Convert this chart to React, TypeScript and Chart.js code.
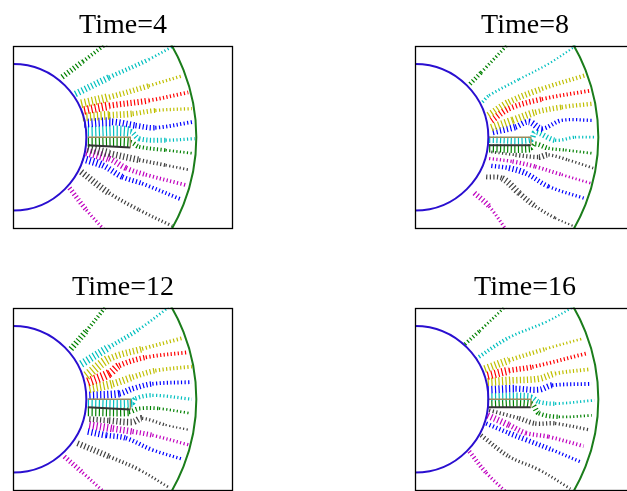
import React, { useEffect, useRef } from 'react';
import { Chart, registerables } from 'chart.js';

Chart.register(...registerables);

type Pt = [number, number];

// Snapshot times shown in the four panels
const times = [4, 8, 12, 16];

// Domain: inner cylinder, outer boundary, plotted window
const innerRadius = 1.0;
const outerRadius = 2.5;
const xLimits = [0, 3];
const yLimits = [-1.25, 1.25];

// Colour code of every streamline, listed from the top one downwards
const streamColorCodes = ['g', 'c', 'y', 'r', 'y', 'b', 'c', 'g', 'k', 'm', 'b', 'k', 'm'];
const colorMap: Record<string, string> = {
  g: '#008000',
  c: '#00bfbf',
  y: '#bfbf00',
  r: '#ff0000',
  b: '#0000ff',
  m: '#bf00bf',
  k: '#404040',
};

// Streamline knots [x, y] and local speed at each knot — Time = 4
const pathsT4: Pt[][] = [
  [[0.67, 0.82], [0.95, 1.03], [1.28, 1.28]],
  [[0.85, 0.59], [1.31, 0.815], [1.85, 1.06], [2.2, 1.25]],
  [[0.93, 0.455], [1.31, 0.545], [1.85, 0.7], [2.32, 0.84]],
  [[0.97, 0.365], [1.31, 0.43], [1.85, 0.5], [2.39, 0.61]],
  [[0.95, 0.275], [1.31, 0.3], [1.63, 0.32], [1.94, 0.365], [2.44, 0.39]],
  [[0.97, 0.19], [1.35, 0.21], [1.67, 0.16], [1.94, 0.13], [2.46, 0.21]],
  [[1.02, 0.077], [1.6, 0.077], [1.72, -0.02], [2.08, -0.04], [2.48, -0.02]],
  [[1.02, -0.068], [1.6, -0.068], [1.72, -0.13], [2.08, -0.175], [2.46, -0.22]],
  [[1.02, -0.15], [1.31, -0.22], [1.72, -0.31], [2.08, -0.38], [2.41, -0.445]],
  [[1.0, -0.2], [1.31, -0.29], [1.54, -0.42], [1.81, -0.51], [2.35, -0.65]],
  [[0.95, -0.29], [1.22, -0.38], [1.49, -0.54], [1.76, -0.63], [2.3, -0.85]],
  [[0.93, -0.47], [1.31, -0.76], [1.72, -0.99], [2.17, -1.21]],
  [[0.77, -0.69], [1.0, -0.99], [1.28, -1.3]],
];
const speedsT4: number[][] = [
  [0.5, 0.35, 0.2],
  [0.6, 0.4, 0.25, 0.2],
  [0.8, 0.5, 0.3, 0.2],
  [0.8, 0.55, 0.35, 0.2],
  [0.8, 0.6, 0.45, 0.3, 0.2],
  [0.8, 0.6, 0.5, 0.35, 0.2],
  [0.95, 0.5, 0.45, 0.3, 0.2],
  [0.9, 0.45, 0.35, 0.25, 0.2],
  [0.8, 0.6, 0.35, 0.25, 0.2],
  [0.8, 0.55, 0.45, 0.35, 0.25],
  [0.7, 0.55, 0.45, 0.35, 0.25],
  [0.6, 0.35, 0.3, 0.2],
  [0.45, 0.3, 0.2],
];
const bladeT4: Pt[] = [[1.02, 0.0], [1.6, 0.0], [1.6, -0.14], [1.02, -0.11]];

// Time = 8
const pathsT8: Pt[][] = [
  [[0.75, 0.725], [0.9, 0.88], [1.27, 1.27]],
  [[0.92, 0.48], [1.01, 0.57], [1.42, 0.79], [1.82, 1.0], [2.2, 1.25]],
  [[1.0, 0.3], [1.28, 0.48], [1.73, 0.66], [2.31, 0.84]],
  [[1.04, 0.23], [1.28, 0.39], [1.73, 0.52], [2.39, 0.635]],
  [[1.04, 0.13], [1.33, 0.23], [1.64, 0.34], [2.0, 0.41], [2.41, 0.455]],
  [[1.06, 0.07], [1.37, 0.14], [1.55, 0.21], [1.73, 0.117], [2.0, 0.23], [2.43, 0.23]],
  [[1.01, -0.034], [1.58, -0.034], [1.64, 0.07], [1.91, -0.04], [2.18, 0.0], [2.45, 0.0]],
  [[1.01, -0.15], [1.58, -0.15], [1.64, -0.09], [1.82, -0.15], [2.05, -0.175], [2.43, -0.22]],
  [[1.04, -0.2], [1.37, -0.24], [1.69, -0.27], [1.82, -0.24], [2.09, -0.31], [2.43, -0.42]],
  [[1.01, -0.29], [1.33, -0.33], [1.64, -0.4], [2.0, -0.51], [2.41, -0.63]],
  [[1.04, -0.39], [1.28, -0.42], [1.51, -0.49], [1.82, -0.67], [2.3, -0.83]],
  [[0.97, -0.54], [1.19, -0.56], [1.42, -0.76], [1.64, -0.94], [1.91, -1.1], [2.16, -1.21]],
  [[0.81, -0.76], [1.01, -0.94], [1.27, -1.3]],
];
const speedsT8: number[][] = [
  [0.4, 0.3, 0.2],
  [0.3, 0.25, 0.2, 0.2, 0.2],
  [0.6, 0.55, 0.4, 0.3],
  [0.6, 0.5, 0.35, 0.3],
  [0.7, 0.65, 0.5, 0.4, 0.3],
  [0.6, 0.5, 0.6, 0.4, 0.3, 0.2],
  [0.6, 0.5, 0.5, 0.3, 0.25, 0.2],
  [0.75, 0.4, 0.45, 0.3, 0.25, 0.2],
  [0.25, 0.4, 0.55, 0.3, 0.25, 0.2],
  [0.3, 0.4, 0.35, 0.25, 0.2],
  [0.4, 0.55, 0.45, 0.3, 0.2],
  [0.45, 0.6, 0.5, 0.3, 0.2, 0.2],
  [0.5, 0.3, 0.2],
];
const bladeT8: Pt[] = [[1.01, 0.0], [1.58, 0.0], [1.58, -0.11], [1.01, -0.11]];

// Time = 12
const pathsT12: Pt[][] = [
  [[0.79, 0.685], [1.0, 0.93], [1.28, 1.28]],
  [[0.93, 0.48], [1.31, 0.71], [1.72, 0.955], [2.12, 1.25]],
  [[1.0, 0.32], [1.31, 0.55], [1.76, 0.685], [2.3, 0.83]],
  [[1.02, 0.235], [1.31, 0.35], [1.45, 0.46], [1.81, 0.57], [2.39, 0.64]],
  [[1.04, 0.145], [1.36, 0.21], [1.63, 0.3], [1.94, 0.39], [2.44, 0.445]],
  [[1.04, 0.054], [1.45, 0.077], [1.63, 0.144], [1.9, 0.21], [2.44, 0.234]],
  [[1.02, -0.05], [1.63, -0.05], [1.67, 0.01], [1.9, 0.054], [2.44, 0.0]],
  [[1.02, -0.17], [1.58, -0.17], [1.72, -0.126], [1.99, -0.126], [2.41, -0.19]],
  [[1.04, -0.27], [1.31, -0.29], [1.63, -0.31], [1.76, -0.26], [2.08, -0.35], [2.41, -0.42]],
  [[1.04, -0.35], [1.36, -0.4], [1.63, -0.44], [1.9, -0.49], [2.39, -0.62]],
  [[1.02, -0.44], [1.27, -0.49], [1.54, -0.53], [1.9, -0.69], [2.32, -0.82]],
  [[0.88, -0.6], [1.31, -0.78], [1.72, -0.96], [2.14, -1.21]],
  [[0.7, -0.78], [0.95, -1.0], [1.28, -1.3]],
];
const speedsT12: number[][] = [
  [0.55, 0.35, 0.2],
  [0.7, 0.4, 0.25, 0.2],
  [0.85, 0.6, 0.35, 0.2],
  [0.85, 0.7, 0.5, 0.35, 0.2],
  [0.8, 0.65, 0.5, 0.35, 0.2],
  [0.7, 0.55, 0.5, 0.35, 0.2],
  [0.8, 0.45, 0.4, 0.3, 0.2],
  [0.8, 0.45, 0.35, 0.25, 0.2],
  [0.5, 0.6, 0.6, 0.3, 0.2, 0.2],
  [0.7, 0.6, 0.45, 0.3, 0.2],
  [0.6, 0.5, 0.4, 0.3, 0.2],
  [0.55, 0.35, 0.25, 0.2],
  [0.45, 0.3, 0.2],
];
const bladeT12: Pt[] = [[1.02, 0.0], [1.6, 0.0], [1.6, -0.14], [1.02, -0.11]];

// Time = 16
const pathsT16: Pt[][] = [
  [[0.68, 0.75], [0.88, 0.93], [1.25, 1.28]],
  [[0.83, 0.55], [1.28, 0.84], [1.78, 1.05], [2.17, 1.26]],
  [[0.95, 0.41], [1.28, 0.53], [1.78, 0.685], [2.3, 0.83]],
  [[0.99, 0.32], [1.28, 0.39], [1.6, 0.44], [2.36, 0.63]],
  [[0.99, 0.235], [1.33, 0.257], [1.69, 0.28], [1.91, 0.35], [2.39, 0.41]],
  [[0.99, 0.13], [1.37, 0.144], [1.69, 0.13], [1.87, 0.19], [2.41, 0.21]],
  [[0.99, 0.03], [1.58, 0.03], [1.69, -0.036], [1.91, -0.06], [2.45, -0.014]],
  [[0.99, -0.06], [1.58, -0.06], [1.69, -0.19], [1.96, -0.24], [2.41, -0.22]],
  [[1.01, -0.15], [1.42, -0.26], [1.64, -0.33], [1.91, -0.33], [2.39, -0.42]],
  [[0.99, -0.22], [1.28, -0.35], [1.51, -0.46], [1.82, -0.51], [2.3, -0.64]],
  [[0.97, -0.33], [1.28, -0.46], [1.51, -0.55], [1.87, -0.69], [2.25, -0.85]],
  [[0.9, -0.49], [1.28, -0.78], [1.69, -0.96], [2.12, -1.22]],
  [[0.74, -0.71], [0.97, -1.0], [1.28, -1.3]],
];
const speedsT16: number[][] = [
  [0.35, 0.25, 0.2],
  [0.35, 0.25, 0.2, 0.2],
  [0.7, 0.4, 0.25, 0.2],
  [0.75, 0.5, 0.35, 0.2],
  [0.75, 0.6, 0.6, 0.35, 0.2],
  [0.7, 0.55, 0.55, 0.35, 0.2],
  [0.7, 0.45, 0.4, 0.25, 0.2],
  [0.75, 0.5, 0.4, 0.25, 0.2],
  [0.35, 0.45, 0.4, 0.3, 0.2],
  [0.6, 0.5, 0.4, 0.35, 0.2],
  [0.4, 0.5, 0.45, 0.3, 0.2],
  [0.4, 0.3, 0.25, 0.2],
  [0.4, 0.3, 0.2],
];
const bladeT16: Pt[] = [[0.99, 0.0], [1.58, 0.0], [1.58, -0.11], [0.99, -0.11]];

type PanelProps = {
  time: number;
  paths: Pt[][];
  speeds: number[][];
  blade: Pt[];
  left: number;
  top: number;
};

const CANVAS_W = 246;
const CANVAS_H = 230;

const toXY = (pts: Pt[]) => pts.map(([x, y]) => ({ x, y }));

// Frame around the plotting area
const boxPlugin = {
  id: 'axesBox',
  afterDatasetsDraw(chart: any) {
    const { ctx, chartArea } = chart;
    const l = Math.round(chartArea.left) + 0.5;
    const t = Math.round(chartArea.top) + 0.5;
    const r = Math.round(chartArea.right) - 0.5;
    const b = Math.round(chartArea.bottom) - 0.5;
    ctx.save();
    ctx.strokeStyle = '#000';
    ctx.lineWidth = 1.3;
    ctx.strokeRect(l, t, r - l, b - t);
    ctx.restore();
  },
};

function FlowPanel({ time, paths, speeds, blade, left, top }: PanelProps) {
  const canvasRef = useRef<HTMLCanvasElement>(null);

  useEffect(() => {
    const canvas = canvasRef.current;
    if (!canvas) return;

    // circle radius in pixels, taken from the x scale once it is laid out
    const radiusFromScale = (r: number) => (c: any) => {
      const s = c.chart.scales?.x;
      if (!s) return 0;
      const v = s.getPixelForValue(r) - s.getPixelForValue(0);
      return Number.isFinite(v) ? v : 0;
    };

    const boundary = (r: number, color: string) => ({
      type: 'scatter',
      showLine: false,
      data: [{ x: 0, y: 0 }],
      pointRadius: radiusFromScale(r),
      pointHoverRadius: 0,
      pointBorderColor: color,
      pointBackgroundColor: 'rgba(0,0,0,0)',
      pointBorderWidth: 2,
      clip: 0,
    });

    const datasets: any[] = [
      boundary(innerRadius, '#2a0fd0'),
      boundary(outerRadius, '#1b7d1b'),
      {
        type: 'scatter',
        showLine: true,
        data: toXY([blade[0], blade[1], blade[2]]),
        borderColor: '#9c8a5a',
        borderWidth: 1.3,
        pointRadius: 0,
        clip: 0,
      },
      {
        type: 'scatter',
        showLine: true,
        data: toXY([blade[2], blade[3]]),
        borderColor: '#333333',
        borderWidth: 2,
        pointRadius: 0,
        clip: 0,
      },
      ...paths.map((p, i) => ({
        type: 'scatter',
        showLine: true,
        data: toXY(p),
        borderColor: colorMap[streamColorCodes[i]],
        borderWidth: 1.5,
        borderDash: [1.2, 2.4],
        borderCapStyle: 'butt',
        tension: 0.35,
        pointRadius: 0,
        clip: 0,
        segment: {
          borderWidth: (s: any) => Math.max(1.4, speeds[i][s.p0DataIndex] * 11),
        },
      })),
    ];

    const chart = new Chart(canvas, {
      type: 'scatter',
      data: { datasets },
      options: {
        animation: false,
        responsive: false,
        devicePixelRatio: 1,
        events: [],
        layout: { autoPadding: false, padding: { left: 13, right: 13, top: 0, bottom: 1 } },
        scales: {
          x: { type: 'linear', min: xLimits[0], max: xLimits[1], display: false },
          y: { type: 'linear', min: yLimits[0], max: yLimits[1], display: false },
        },
        plugins: {
          legend: { display: false },
          tooltip: { enabled: false },
          title: {
            display: true,
            text: `Time=${time}`,
            color: '#000',
            font: {
              family: "'Liberation Serif', 'Times New Roman', serif",
              size: 28,
              weight: 'normal',
              lineHeight: 1.2,
            },
            padding: { top: 8.5, bottom: 3.4 },
          },
        },
      } as any,
      plugins: [boxPlugin],
    });

    return () => chart.destroy();
  }, [time, paths, speeds, blade]);

  return (
    <div style={{ position: 'absolute', left, top, width: CANVAS_W, height: CANVAS_H }}>
      <canvas ref={canvasRef} width={CANVAS_W} height={CANVAS_H} style={{ display: 'block' }} />
    </div>
  );
}

const panels: PanelProps[] = [
  { time: times[0], paths: pathsT4, speeds: speedsT4, blade: bladeT4, left: 0, top: 0 },
  { time: times[1], paths: pathsT8, speeds: speedsT8, blade: bladeT8, left: 402, top: 0 },
  { time: times[2], paths: pathsT12, speeds: speedsT12, blade: bladeT12, left: 0, top: 262 },
  { time: times[3], paths: pathsT16, speeds: speedsT16, blade: bladeT16, left: 402, top: 262 },
];

export default function App() {
  return (
    <div
      style={{
        position: 'fixed',
        left: 0,
        top: 0,
        width: 627,
        height: 491,
        overflow: 'hidden',
        background: '#fff',
      }}
    >
      {panels.map((p) => (
        <FlowPanel key={p.time} {...p} />
      ))}
    </div>
  );
}
